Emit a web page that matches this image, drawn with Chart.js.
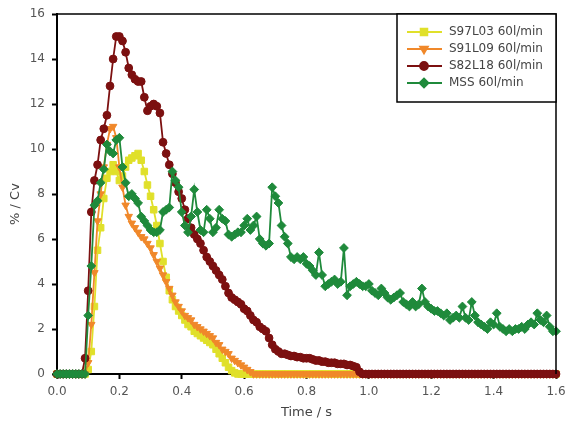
<!DOCTYPE html>
<html>
<head>
<meta charset="utf-8">
<script src="https://cdn.jsdelivr.net/npm/chart.js@4.4.1/dist/chart.umd.min.js"></script>
<style>
  html, body { margin: 0; padding: 0; background: #fff; }
  #wrap { width: 567px; height: 421px; }
</style>
</head>
<body>
<div id="wrap"><canvas id="cv"></canvas></div>
<script>
// sampling interval of the measurements (s)
const DT = 0.01;

const xTicks = [0.0, 0.2, 0.4, 0.6, 0.8, 1.0, 1.2, 1.4, 1.6];
const yTicks = [0, 2, 4, 6, 8, 10, 12, 14, 16];

const s97l03 = [
  0, 0, 0, 0, 0, 0, 0, 0, 0, 0,
  0.2, 1.0, 3.0, 5.5, 6.5, 7.8, 8.7, 9.0, 9.3, 9.0,
  8.6, 8.8, 9.2, 9.5, 9.6, 9.7, 9.8, 9.5, 9.0, 8.4,
  7.9, 7.3, 6.6, 5.8, 5.0, 4.3, 3.7, 3.3, 3.0, 2.8,
  2.6, 2.4, 2.2, 2.1, 1.9, 1.8, 1.7, 1.6, 1.5, 1.4,
  1.3, 1.1, 0.9, 0.7, 0.5, 0.3, 0.15, 0.05, 0, 0,
  0, 0, 0, 0, 0, 0, 0, 0, 0, 0,
  0, 0, 0, 0, 0, 0, 0, 0, 0, 0,
  0, 0, 0, 0, 0, 0, 0, 0, 0, 0,
  0, 0, 0, 0, 0, 0, 0, 0, 0, 0,
  0, 0, 0, 0, 0, 0, 0, 0, 0, 0,
  0, 0, 0, 0, 0, 0, 0, 0, 0, 0,
  0, 0, 0, 0, 0, 0, 0, 0, 0, 0,
  0, 0, 0, 0, 0, 0, 0, 0, 0, 0,
  0, 0, 0, 0, 0, 0, 0, 0, 0, 0,
  0, 0, 0, 0, 0, 0, 0, 0, 0, 0,
  0
];

const s91l09 = [
  0, 0, 0, 0, 0, 0, 0, 0, 0, 0,
  0.5, 2.2, 4.5, 6.8, 8.0, 9.2, 10.2, 10.9, 11.0, 10.5,
  9.2, 8.3, 7.5, 7.0, 6.7, 6.5, 6.3, 6.1, 6.0, 5.8,
  5.6, 5.3, 5.0, 4.7, 4.4, 4.1, 3.8, 3.5, 3.2, 3.0,
  2.8, 2.6, 2.5, 2.4, 2.2, 2.1, 2.0, 1.9, 1.8, 1.7,
  1.6, 1.4, 1.3, 1.1, 1.0, 0.9, 0.7, 0.6, 0.5, 0.4,
  0.3, 0.2, 0.1, 0, 0, 0, 0, 0, 0, 0,
  0, 0, 0, 0, 0, 0, 0, 0, 0, 0,
  0, 0, 0, 0, 0, 0, 0, 0, 0, 0,
  0, 0, 0, 0, 0, 0, 0, 0, 0, 0,
  0, 0, 0, 0, 0, 0, 0, 0, 0, 0,
  0, 0, 0, 0, 0, 0, 0, 0, 0, 0,
  0, 0, 0, 0, 0, 0, 0, 0, 0, 0,
  0, 0, 0, 0, 0, 0, 0, 0, 0, 0,
  0, 0, 0, 0, 0, 0, 0, 0, 0, 0,
  0, 0, 0, 0, 0, 0, 0, 0, 0, 0,
  0
];

const s82l18 = [
  0, 0, 0, 0, 0, 0, 0, 0, 0, 0.7,
  3.7, 7.2, 8.6, 9.3, 10.4, 10.9, 11.5, 12.8, 14.0, 15.0,
  15.0, 14.8, 14.3, 13.6, 13.3, 13.1, 13.0, 13.0, 12.3, 11.7,
  11.9, 12.0, 11.9, 11.6, 10.3, 9.8, 9.3, 8.9, 8.5, 8.1,
  7.8, 7.3, 6.9, 6.5, 6.2, 6.0, 5.8, 5.5, 5.2, 5.0,
  4.8, 4.6, 4.4, 4.2, 3.9, 3.6, 3.4, 3.3, 3.2, 3.1,
  2.9, 2.8, 2.6, 2.4, 2.3, 2.1, 2.0, 1.9, 1.6, 1.3,
  1.1, 1.0, 0.9, 0.9, 0.85, 0.8, 0.8, 0.75, 0.75, 0.7,
  0.7, 0.7, 0.65, 0.6, 0.6, 0.55, 0.55, 0.5, 0.5, 0.5,
  0.45, 0.45, 0.45, 0.4, 0.4, 0.35, 0.3, 0.1, 0, 0,
  0, 0, 0, 0, 0, 0, 0, 0, 0, 0,
  0, 0, 0, 0, 0, 0, 0, 0, 0, 0,
  0, 0, 0, 0, 0, 0, 0, 0, 0, 0,
  0, 0, 0, 0, 0, 0, 0, 0, 0, 0,
  0, 0, 0, 0, 0, 0, 0, 0, 0, 0,
  0, 0, 0, 0, 0, 0, 0, 0, 0, 0,
  0
];

const mss = [
  0, 0, 0, 0, 0, 0, 0, 0, 0, 0,
  2.6, 4.8, 7.5, 7.7, 8.5, 9.1, 10.2, 9.9, 9.8, 10.4,
  10.5, 9.2, 8.5, 7.9, 8.0, 7.8, 7.6, 7.0, 6.8, 6.6,
  6.4, 6.3, 6.3, 6.4, 7.2, 7.3, 7.4, 9.0, 8.6, 8.3,
  7.2, 6.6, 6.3, 7.0, 8.2, 7.2, 6.4, 6.3, 7.3, 6.9,
  6.3, 6.5, 7.3, 6.9, 6.8, 6.2, 6.1, 6.2, 6.3, 6.3,
  6.6, 6.9, 6.4, 6.6, 7.0, 6.0, 5.8, 5.7, 5.8, 8.3,
  7.9, 7.6, 6.6, 6.1, 5.8, 5.2, 5.1, 5.2, 5.1, 5.2,
  4.9, 4.8, 4.6, 4.4, 5.4, 4.4, 3.9, 4.0, 4.1, 4.2,
  4.0, 4.1, 5.6, 3.5, 3.9, 4.0, 4.1, 4.0, 3.9, 3.9,
  4.0, 3.7, 3.6, 3.5, 3.8, 3.6, 3.4, 3.3, 3.4, 3.5,
  3.6, 3.2, 3.1, 3.0, 3.2, 3.0, 3.1, 3.8, 3.2, 3.0,
  2.9, 2.8, 2.8, 2.7, 2.6, 2.7, 2.4, 2.5, 2.6, 2.5,
  3.0, 2.5, 2.4, 3.2, 2.6, 2.3, 2.2, 2.1, 2.0, 2.3,
  2.2, 2.7, 2.1, 2.0, 1.9, 2.0, 1.9, 2.0, 2.0, 2.1,
  2.0, 2.2, 2.3, 2.2, 2.7, 2.4, 2.3, 2.6, 2.1, 1.9,
  1.9
];

const YELLOW = '#e0e02a';
const ORANGE = '#f0882a';
const DARKRED = '#7c1010';
const GREEN = '#1f8a3b';
const FONT = 'DejaVu Sans, Arial, sans-serif';

const toPoints = arr => arr.map((v, i) => ({ x: +(i * DT).toFixed(2), y: v }));

function series(label, values, color, style, radius, rotation, order) {
  return {
    label,
    data: toPoints(values),
    borderColor: color,
    backgroundColor: color,
    borderWidth: 1.8,
    pointStyle: style,
    pointRadius: radius,
    pointRotation: rotation,
    pointBorderWidth: 1,
    pointBorderColor: color,
    pointBackgroundColor: color,
    order,
    clip: 8
  };
}

// legend box drawn inside the top-right corner of the plot
const boxLegend = {
  id: 'boxLegend',
  afterDraw(chart) {
    const { ctx, chartArea } = chart;
    const w = 159, h = 88;
    const left = chartArea.right - w, top = chartArea.top;
    ctx.save();
    ctx.fillStyle = '#fff';
    ctx.fillRect(left, top, w, h);
    ctx.strokeStyle = '#000';
    ctx.lineWidth = 1.5;
    ctx.strokeRect(left, top, w, h);
    chart.data.datasets.forEach((ds, i) => {
      const y = top + 18 + i * 17;
      ctx.strokeStyle = ds.borderColor;
      ctx.fillStyle = ds.backgroundColor;
      ctx.lineWidth = 2;
      ctx.beginPath();
      ctx.moveTo(left + 10, y);
      ctx.lineTo(left + 45, y);
      ctx.stroke();
      Chart.helpers.drawPoint(ctx, {
        pointStyle: ds.pointStyle,
        rotation: ds.pointRotation,
        radius: ds.pointRadius,
        borderWidth: 1
      }, left + 27, y);
      ctx.fillStyle = '#444';
      ctx.font = '12px ' + FONT;
      ctx.textBaseline = 'middle';
      ctx.fillText(ds.label, left + 52, y);
    });
    ctx.restore();
  }
};

// top and right frame lines, plus the y axis title
const frame = {
  id: 'frame',
  afterDatasetsDraw(chart) {
    const { ctx, chartArea: a } = chart;
    ctx.save();
    ctx.strokeStyle = '#000';
    ctx.lineWidth = 1.5;
    ctx.beginPath();
    ctx.moveTo(a.left, a.top);
    ctx.lineTo(a.right, a.top);
    ctx.lineTo(a.right, a.bottom);
    ctx.stroke();
    ctx.translate(16, (a.top + a.bottom) / 2 + 10);
    ctx.rotate(-Math.PI / 2);
    ctx.fillStyle = '#444';
    ctx.font = '13px ' + FONT;
    ctx.textAlign = 'center';
    ctx.textBaseline = 'middle';
    ctx.fillText('% / Cv', 0, 0);
    ctx.restore();
  }
};

new Chart(document.getElementById('cv'), {
  type: 'line',
  data: {
    datasets: [
      series('S97L03 60l/min', s97l03, YELLOW, 'rect', 4.6, 0, 4),
      series('S91L09 60l/min', s91l09, ORANGE, 'triangle', 4.3, 180, 3),
      series('S82L18 60l/min', s82l18, DARKRED, 'circle', 3.9, 0, 2),
      series('MSS 60l/min', mss, GREEN, 'rectRot', 4.4, 0, 1)
    ]
  },
  options: {
    responsive: true,
    maintainAspectRatio: false,
    animation: false,
    layout: { padding: { top: 14, right: 11, left: 0, bottom: 0 } },
    plugins: {
      legend: { display: false },
      tooltip: { enabled: false }
    },
    scales: {
      x: {
        type: 'linear',
        min: 0,
        max: 1.6,
        afterFit: s => { s.height = 47; s.paddingLeft = 0; s.paddingRight = 0; },
        afterBuildTicks: s => { s.ticks = xTicks.map(v => ({ value: v })); },
        ticks: {
          color: '#555',
          font: { family: FONT, size: 12 },
          padding: 6,
          callback: v => v.toFixed(1)
        },
        grid: { drawOnChartArea: false, drawTicks: true, tickLength: 5, tickColor: '#000', tickWidth: 2 },
        border: { color: '#000', width: 2 },
        title: {
          display: true,
          text: 'Time / s',
          color: '#444',
          font: { family: FONT, size: 13 },
          padding: { top: 0, bottom: 1 }
        }
      },
      y: {
        min: 0,
        max: 16,
        afterFit: s => { s.width = 57; s.paddingTop = 0; s.paddingBottom = 0; },
        afterBuildTicks: s => { s.ticks = yTicks.map(v => ({ value: v })); },
        ticks: {
          color: '#555',
          font: { family: FONT, size: 12 },
          padding: 7
        },
        grid: { drawOnChartArea: false, drawTicks: true, tickLength: 5, tickColor: '#000', tickWidth: 2 },
        border: { color: '#000', width: 2 }
      }
    }
  },
  plugins: [frame, boxLegend]
});
</script>
</body>
</html>
